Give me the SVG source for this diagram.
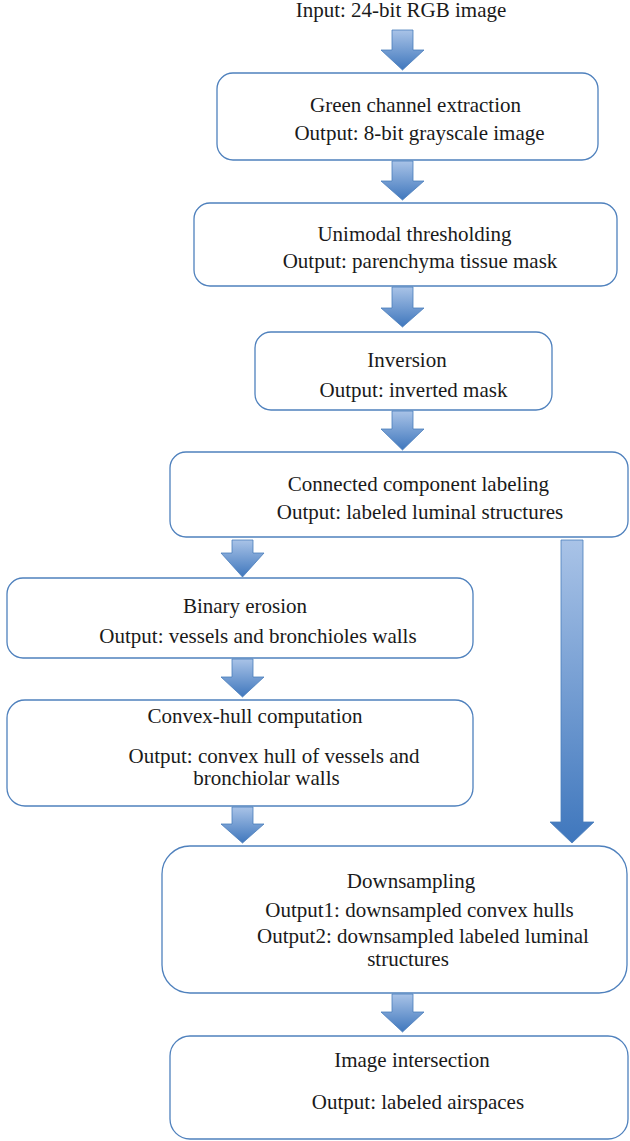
<svg xmlns="http://www.w3.org/2000/svg" width="630" height="1141" viewBox="0 0 630 1141">
<style>
.box{fill:#fff;stroke:#4f81bd;stroke-width:1.3}
.t{font-family:"Liberation Serif","Times New Roman",serif;font-size:21px;fill:#1a1a1a;text-anchor:middle}
.arr{fill:url(#g);stroke:#4a7ebb;stroke-width:0.8}
</style>
<defs>
<linearGradient id="g" x1="0" y1="0" x2="0" y2="1">
<stop offset="0" stop-color="#a9c3e7"/>
<stop offset="1" stop-color="#3f77bd"/>
</linearGradient>
</defs>
<rect width="630" height="1141" fill="#fff"/>
<g id="connectors">
<path class="arr" d="M392,30 H413 V50 H424 L402.5,70 L381,50 H392 Z"/>
<path class="arr" d="M392,161 H413 V181 H424 L402.5,200 L381,181 H392 Z"/>
<path class="arr" d="M392,287 H413 V308 H424 L402.5,327 L381,308 H392 Z"/>
<path class="arr" d="M392,411 H413 V429 H424 L402.5,450 L381,429 H392 Z"/>
<path class="arr" d="M232,540 H253 V553 H264 L242.5,577 L221,553 H232 Z"/>
<path class="arr" d="M561,540 H583 V822 H594 L572,843 L550,822 H561 Z"/>
<path class="arr" d="M232,659 H253 V677 H264 L242.5,697 L221,677 H232 Z"/>
<path class="arr" d="M232,807 H253 V824 H264 L242.5,843 L221,824 H232 Z"/>
<path class="arr" d="M392,994 H413 V1012 H424 L402.5,1032 L381,1012 H392 Z"/>
</g>
<g id="input">
<text class="t" x="401" y="17">Input: 24-bit RGB image</text>
</g>
<g id="green">
<rect class="box" x="217" y="73" width="381" height="87" rx="16"/>
<text class="t" x="415.5" y="112">Green channel extraction</text>
<text class="t" x="419.5" y="140">Output: 8-bit grayscale image</text>
</g>
<g id="unimodal">
<rect class="box" x="194" y="203" width="423" height="83" rx="16"/>
<text class="t" x="414.5" y="241">Unimodal thresholding</text>
<text class="t" x="420" y="268">Output: parenchyma tissue mask</text>
</g>
<g id="inversion">
<rect class="box" x="255" y="332" width="297" height="78" rx="16"/>
<text class="t" x="407" y="367">Inversion</text>
<text class="t" x="413.5" y="397">Output: inverted mask</text>
</g>
<g id="ccl">
<rect class="box" x="170" y="452" width="458" height="85" rx="16"/>
<text class="t" x="418.5" y="491">Connected component labeling</text>
<text class="t" x="420" y="519">Output: labeled luminal structures</text>
</g>
<g id="erosion">
<rect class="box" x="7" y="578" width="466" height="80" rx="16"/>
<text class="t" x="245" y="613">Binary erosion</text>
<text class="t" x="258" y="643">Output: vessels and bronchioles walls</text>
</g>
<g id="convex">
<rect class="box" x="7" y="700" width="466" height="106" rx="18"/>
<text class="t" x="255" y="723">Convex-hull computation</text>
<text class="t" x="274" y="763">Output: convex hull of vessels and</text>
<text class="t" x="266.5" y="785">bronchiolar walls</text>
</g>
<g id="downsampling">
<rect class="box" x="162" y="846" width="465" height="147" rx="28"/>
<text class="t" x="411" y="888">Downsampling</text>
<text class="t" x="419.5" y="917">Output1: downsampled convex hulls</text>
<text class="t" x="423" y="943">Output2: downsampled labeled luminal</text>
<text class="t" x="408" y="966">structures</text>
</g>
<g id="intersection">
<rect class="box" x="170" y="1036" width="458" height="103" rx="20"/>
<text class="t" x="412" y="1067">Image intersection</text>
<text class="t" x="418" y="1109">Output: labeled airspaces</text>
</g>
</svg>
